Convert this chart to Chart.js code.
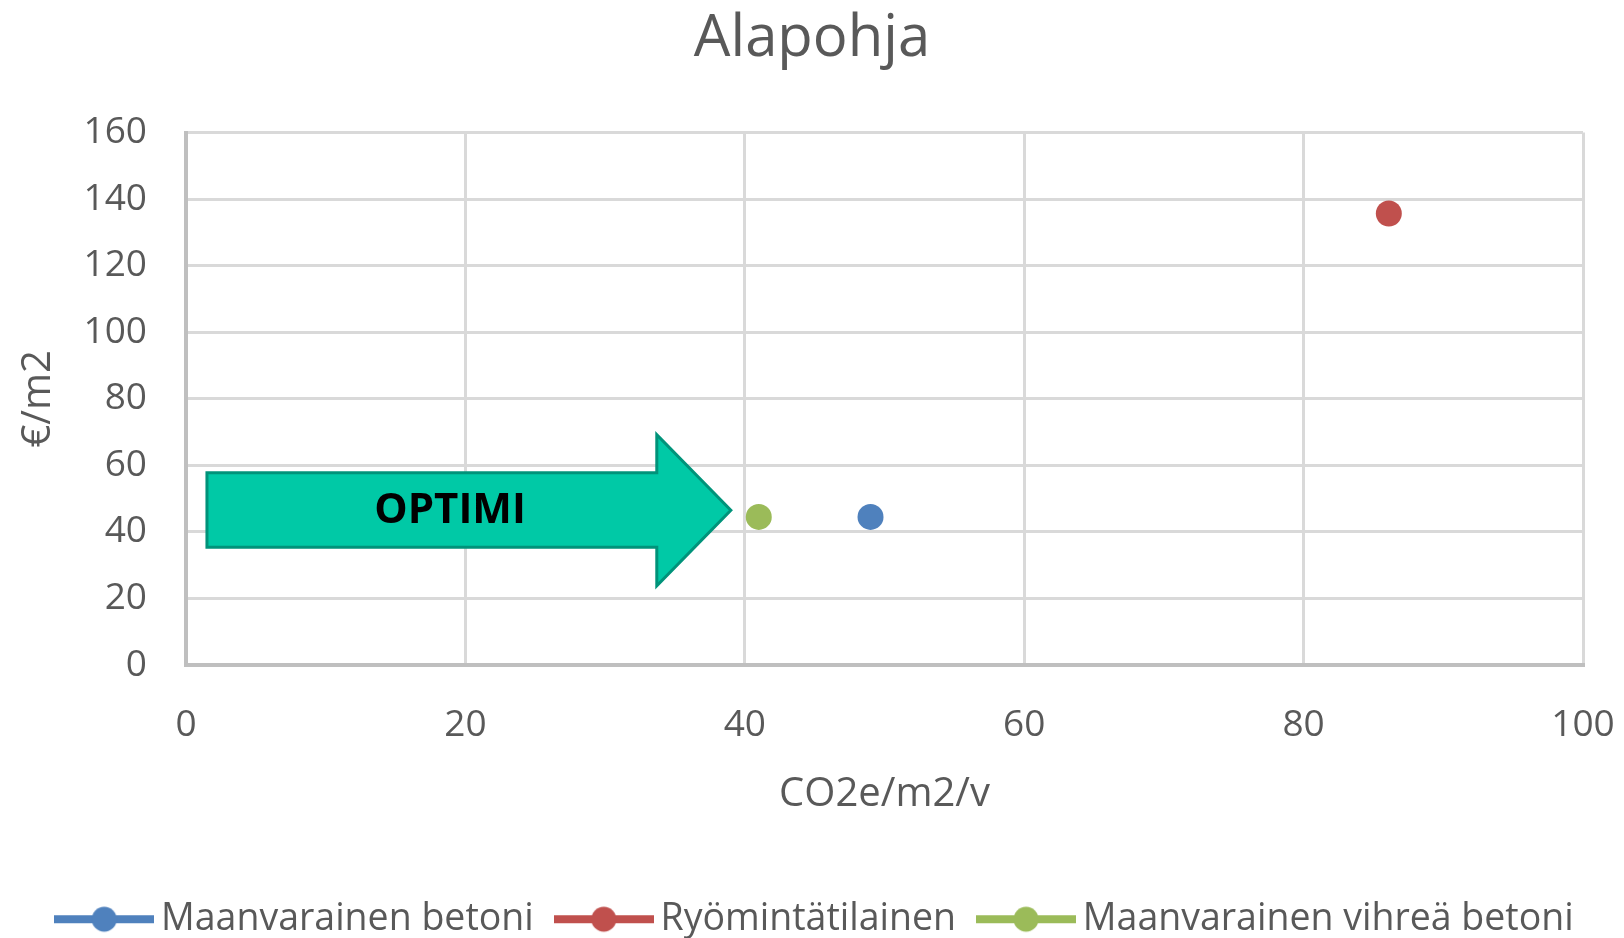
<!DOCTYPE html>
<html>
<head>
<meta charset="utf-8">
<script src="https://cdn.jsdelivr.net/npm/chart.js@4.4.1/dist/chart.umd.min.js"></script>
<style>
  html, body { margin: 0; padding: 0; background: #fff; }
  #wrap { width: 1624px; height: 938px; }
</style>
</head>
<body>
<div id="wrap"><canvas id="chart"></canvas></div>
<script>
// values
const seriesNames = ['Maanvarainen betoni', 'Ryömintätilainen', 'Maanvarainen vihreä betoni']
const seriesColors = ['#4f81bd', '#c0504d', '#9bbb59']
const co2Values = [49.0, 86.1, 41.0]
const costValues = [44.5, 135.7, 44.5]
const xTicks = [0, 20, 40, 60, 80, 100]
const yTicks = [0, 20, 40, 60, 80, 100, 120, 140, 160]

const textGray = '#595959'
Chart.defaults.font.family = '"Open Sans", sans-serif'
Chart.defaults.color = textGray

// legend marker: a thick line with the dot on it
function legendIcon(color) {
  const c = document.createElement('canvas')
  c.width = 100
  c.height = 30
  const g = c.getContext('2d')
  g.strokeStyle = color
  g.lineWidth = 8
  g.beginPath()
  g.moveTo(0, 15)
  g.lineTo(100, 15)
  g.stroke()
  g.fillStyle = color
  g.beginPath()
  g.arc(50, 15, 12.5, 0, Math.PI * 2)
  g.fill()
  return c
}

// the "OPTIMI" arrow, given in data units
const arrowPlugin = {
  id: 'optimiArrow',
  afterDatasetsDraw(chart) {
    const {ctx, scales: {x, y}} = chart
    const left = x.getPixelForValue(1.5), neck = x.getPixelForValue(33.7), tip = x.getPixelForValue(39.0)
    const sTop = y.getPixelForValue(57.8), sBot = y.getPixelForValue(35.4)
    const hTop = y.getPixelForValue(69.2), hBot = y.getPixelForValue(23.8), tipY = y.getPixelForValue(46.5)
    ctx.save()
    ctx.beginPath()
    ctx.moveTo(left, sTop)
    ctx.lineTo(neck, sTop)
    ctx.lineTo(neck, hTop)
    ctx.lineTo(tip, tipY)
    ctx.lineTo(neck, hBot)
    ctx.lineTo(neck, sBot)
    ctx.lineTo(left, sBot)
    ctx.closePath()
    ctx.fillStyle = '#00c9a6'
    ctx.fill()
    ctx.lineWidth = 3
    ctx.strokeStyle = '#00937a'
    ctx.stroke()
    ctx.fillStyle = '#000'
    ctx.font = 'bold 42px "Open Sans", sans-serif'
    ctx.textAlign = 'center'
    ctx.textBaseline = 'middle'
    ctx.fillText('OPTIMI', x.getPixelForValue(18.9), y.getPixelForValue(46.3))
    ctx.restore()
  }
}

// nudge the legend row a little (chart.js keeps it flush otherwise)
const legendShift = {
  id: 'legendShift',
  afterLayout(chart) {
    const lg = chart.legend
    lg.top += 10
    lg.bottom += 10
    lg.left += 8
    lg.right += 8
  }
}

const datasets = seriesNames.map((name, i) => ({
  label: name,
  data: [{x: co2Values[i], y: costValues[i]}],
  backgroundColor: seriesColors[i],
  borderColor: seriesColors[i],
  borderWidth: 0,
  pointRadius: 13,
  pointHoverRadius: 13
}))

const ctx = document.getElementById('chart').getContext('2d')
new Chart(ctx, {
  type: 'scatter',
  data: { datasets },
  plugins: [arrowPlugin, legendShift],
  options: {
    responsive: true,
    maintainAspectRatio: false,
    animation: false,
    devicePixelRatio: 1,
    layout: { padding: 0 },
    plugins: {
      tooltip: { enabled: false },
      title: {
        display: true,
        text: 'Alapohja',
        color: textGray,
        font: { size: 58, weight: 'normal' },
        padding: { top: 5, bottom: 58 }
      },
      legend: {
        position: 'bottom',
        labels: {
          usePointStyle: true,
          pointStyleWidth: 76,
          padding: 32,
          color: textGray,
          font: { size: 37.5 },
          generateLabels: chart => chart.data.datasets.map((ds, i) => ({
            text: ds.label,
            pointStyle: legendIcon(ds.backgroundColor),
            fillStyle: ds.backgroundColor,
            strokeStyle: ds.backgroundColor,
            lineWidth: 0,
            fontColor: textGray,
            hidden: false,
            datasetIndex: i
          }))
        }
      }
    },
    scales: {
      x: {
        type: 'linear',
        min: 0,
        max: 100,
        afterBuildTicks: s => { s.ticks = xTicks.map(v => ({value: v})) },
        afterFit: s => {
          s.height = 193.5
          s.paddingLeft = 0
          s.paddingRight = 41
        },
        ticks: { padding: 38, font: { size: 37 }, color: textGray },
        grid: { color: '#d9d9d9', lineWidth: 3, drawTicks: false },
        border: { color: '#bfbfbf', width: 4 },
        title: {
          display: true,
          text: 'CO2e/m2/v',
          color: textGray,
          font: { size: 40 },
          padding: { top: 0, bottom: 39.5 }
        }
      },
      y: {
        type: 'linear',
        min: 0,
        max: 160,
        afterBuildTicks: s => { s.ticks = yTicks.map(v => ({value: v})) },
        afterFit: s => { s.width = 186 },
        ticks: { padding: 39, font: { size: 37 }, color: textGray },
        grid: { color: '#d9d9d9', lineWidth: 3, drawTicks: false },
        border: { color: '#bfbfbf', width: 4 },
        title: {
          display: true,
          text: '€/m2',
          color: textGray,
          font: { size: 40 },
          padding: { top: 15, bottom: 0 }
        }
      }
    }
  }
})
</script>
</body>
</html>
